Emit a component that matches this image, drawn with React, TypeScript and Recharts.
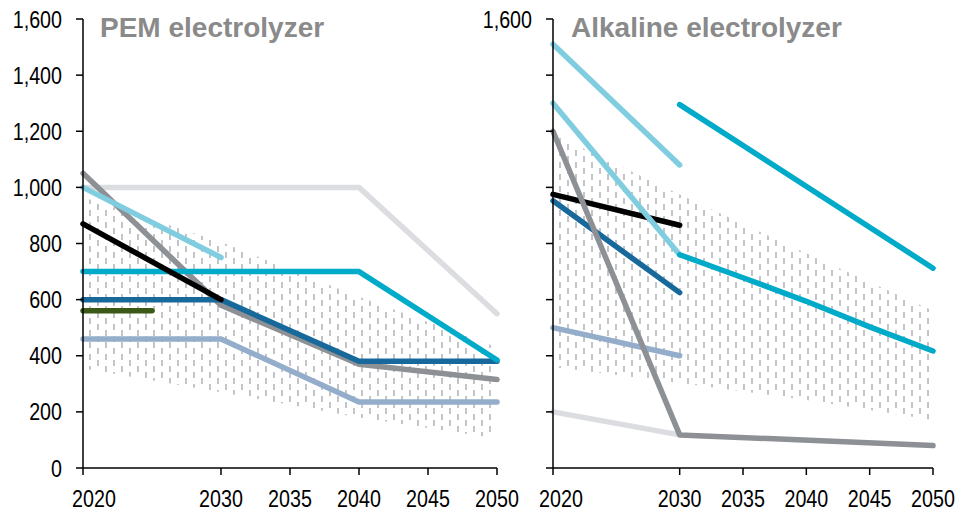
import React from "react";
import { ComposedChart, Line, Area, XAxis, YAxis } from "recharts";

// PEM electrolyzer (USD/kW) – years and series values
const pemYears = [2020, 2025, 2030, 2040, 2050];
const pemLightGrey = [1000, null, 1000, 1000, 550];
const pemGrey = [1050, null, 580, 370, 315];
const pemLightCyan = [1000, null, 750, null, null];
const pemBlack = [870, null, 600, null, null];
const pemCyan = [700, null, 700, 700, 385];
const pemDarkBlue = [600, null, 600, 380, 380];
const pemGreen = [560, 560, null, null, null];
const pemBlueGrey = [460, null, 460, 235, 235];
const pemBandLow = [355, null, 270, 180, 105];
const pemBandHigh = [965, null, 805, 610, 430];

// Alkaline electrolyzer
const alkYears = [2020, 2030, 2035, 2040, 2045, 2050];
const alkLightCyanTop = [1510, 1080, null, null, null, null];
const alkLightCyan = [1300, 760, null, null, null, null];
const alkCyanHigh = [null, 1295, null, null, null, 712];
const alkCyanLow = [null, 760, 678, 594, 503, 417];
const alkGrey = [1200, 118, null, null, null, 80];
const alkBlack = [975, 865, null, null, null, null];
const alkDarkBlue = [952, 625, null, null, null, null];
const alkBlueGrey = [500, 400, null, null, null, null];
const alkLightGrey = [200, 118, null, null, null, null];
const alkBandLow = [360, 303, null, 242, null, 171];
const alkBandHigh = [1190, 975, null, 765, null, 560];

const xTicks = [2020, 2030, 2035, 2040, 2045, 2050];
const yTicks = [0, 200, 400, 600, 800, 1000, 1200, 1400, 1600];

const C = {
  lightGrey: "#dcdde1",
  grey: "#8d9095",
  lightCyan: "#80cde0",
  black: "#000000",
  cyan: "#00aac9",
  darkBlue: "#17699b",
  green: "#3b5a17",
  blueGrey: "#93adcb",
};

const FONT = "'Liberation Sans', Arial, sans-serif";
const FS = 24;

// squeeze the text to an Arial Narrow-like width
const narrowWidth = (s: string) =>
  s.split("").reduce((w, ch) => w + (ch === "," ? 0.228 : 0.456) * FS, 0);

type Pt = { year: number; v?: number; range?: [number, number] };

const toSeries = (years: number[], vals: (number | null)[]): Pt[] =>
  years
    .map((y, i) => ({ year: y, v: vals[i] as number }))
    .filter((d) => d.v != null);

const toBand = (years: number[], lo: (number | null)[], hi: (number | null)[]): Pt[] =>
  years
    .map((y, i) => ({ year: y, range: [lo[i], hi[i]] as [number, number] }))
    .filter((d) => d.range[0] != null && d.range[1] != null);

const pemLines = [
  { key: "lightGrey", data: toSeries(pemYears, pemLightGrey), color: C.lightGrey },
  { key: "grey", data: toSeries(pemYears, pemGrey), color: C.grey },
  { key: "blueGrey", data: toSeries(pemYears, pemBlueGrey), color: C.blueGrey },
  { key: "darkBlue", data: toSeries(pemYears, pemDarkBlue), color: C.darkBlue },
  { key: "cyan", data: toSeries(pemYears, pemCyan), color: C.cyan },
  { key: "green", data: toSeries(pemYears, pemGreen), color: C.green },
  { key: "black", data: toSeries(pemYears, pemBlack), color: C.black },
  { key: "lightCyan", data: toSeries(pemYears, pemLightCyan), color: C.lightCyan },
];

const alkLines = [
  { key: "lightGrey", data: toSeries(alkYears, alkLightGrey), color: C.lightGrey },
  { key: "blueGrey", data: toSeries(alkYears, alkBlueGrey), color: C.blueGrey },
  { key: "darkBlue", data: toSeries(alkYears, alkDarkBlue), color: C.darkBlue },
  { key: "black", data: toSeries(alkYears, alkBlack), color: C.black },
  { key: "lightCyanTop", data: toSeries(alkYears, alkLightCyanTop), color: C.lightCyan },
  { key: "lightCyan", data: toSeries(alkYears, alkLightCyan), color: C.lightCyan },
  { key: "cyanLow", data: toSeries(alkYears, alkCyanLow), color: C.cyan },
  { key: "cyanHigh", data: toSeries(alkYears, alkCyanHigh), color: C.cyan },
  { key: "grey", data: toSeries(alkYears, alkGrey), color: C.grey },
];

function XTick(props: any) {
  const { x, y, payload, firstShift } = props;
  const dx = payload.value === 2020 ? firstShift : 0;
  const s = String(payload.value);
  return (
    <text
      x={x + dx}
      y={y}
      dy="0.71em"
      textAnchor="middle"
      fill="#000"
      fontSize={FS}
      fontFamily={FONT}
      textLength={narrowWidth(s)}
      lengthAdjust="spacingAndGlyphs"
    >
      {s}
    </text>
  );
}

function YTick(props: any) {
  const { x, y, payload, showAll } = props;
  const v = payload.value as number;
  if (!showAll && v !== 1600) return null;
  const s = v.toLocaleString("en-US");
  return (
    <text
      x={x}
      y={y}
      dy="0.355em"
      textAnchor="end"
      fill="#000"
      fontSize={FS}
      fontFamily={FONT}
      textLength={narrowWidth(s)}
      lengthAdjust="spacingAndGlyphs"
    >
      {s}
    </text>
  );
}

function Panel({
  left,
  width,
  right,
  lines,
  band,
  title,
  titleX,
  showAllY,
  firstShift,
}: {
  left: number;
  width: number;
  right: number;
  lines: { key: string; data: Pt[]; color: string }[];
  band: Pt[];
  title: string;
  titleX: number;
  showAllY: boolean;
  firstShift: number;
}) {
  return (
    <div style={{ position: "absolute", left, top: 0, width, height: 520 }}>
      <ComposedChart width={width} height={520} margin={{ top: 19, right, bottom: 0, left: 13 }}>
        <XAxis
          dataKey="year"
          type="number"
          domain={[2020, 2050]}
          ticks={xTicks}
          allowDuplicatedCategory={false}
          height={52}
          tickSize={7}
          tickMargin={15}
          interval={0}
          axisLine={{ stroke: "#000", strokeWidth: 1.5 }}
          tickLine={{ stroke: "#000", strokeWidth: 1.5 }}
          tick={<XTick firstShift={firstShift} />}
        />
        <YAxis
          type="number"
          domain={[0, 1600]}
          ticks={yTicks}
          interval={0}
          width={70}
          tickSize={7}
          tickMargin={14}
          axisLine={{ stroke: "#000", strokeWidth: 1.5 }}
          tickLine={{ stroke: "#000", strokeWidth: 1.5 }}
          tick={<YTick showAll={showAllY} />}
        />
        <Area
          data={band}
          dataKey="range"
          type="linear"
          stroke="none"
          fill="url(#hatch)"
          fillOpacity={1}
          isAnimationActive={false}
          dot={false}
          activeDot={false}
        />
        {lines.map((l) => (
          <Line
            key={l.key}
            data={l.data}
            dataKey="v"
            type="linear"
            stroke={l.color}
            strokeWidth={5.5}
            strokeLinecap="round"
            strokeLinejoin="round"
            dot={false}
            activeDot={false}
            isAnimationActive={false}
          />
        ))}
      </ComposedChart>
      <div
        style={{
          position: "absolute",
          left: titleX - left,
          top: 14,
          fontFamily: FONT,
          fontWeight: "bold",
          fontSize: 28,
          lineHeight: "28px",
          color: "#8a8a8a",
          whiteSpace: "nowrap",
        }}
      >
        {title}
      </div>
    </div>
  );
}

export default function App() {
  return (
    <div style={{ position: "absolute", left: 0, top: 0, width: 968, height: 520, background: "#fff" }}>
      <svg width={0} height={0} style={{ position: "absolute" }}>
        <defs>
          <pattern id="hatch" patternUnits="userSpaceOnUse" width={16} height={12}>
            <rect x={1} y={0} width={2} height={6} fill="#c2c4c8" />
            <rect x={9} y={6} width={2} height={6} fill="#c2c4c8" />
          </pattern>
        </defs>
      </svg>
      <Panel
        left={0}
        width={535}
        right={38}
        lines={pemLines}
        band={toBand(pemYears, pemBandLow, pemBandHigh)}
        title="PEM electrolyzer"
        titleX={100}
        showAllY={true}
        firstShift={11}
      />
      <Panel
        left={470}
        width={498}
        right={35}
        lines={alkLines}
        band={toBand(alkYears, alkBandLow, alkBandHigh)}
        title="Alkaline electrolyzer"
        titleX={571}
        showAllY={false}
        firstShift={8}
      />
    </div>
  );
}
